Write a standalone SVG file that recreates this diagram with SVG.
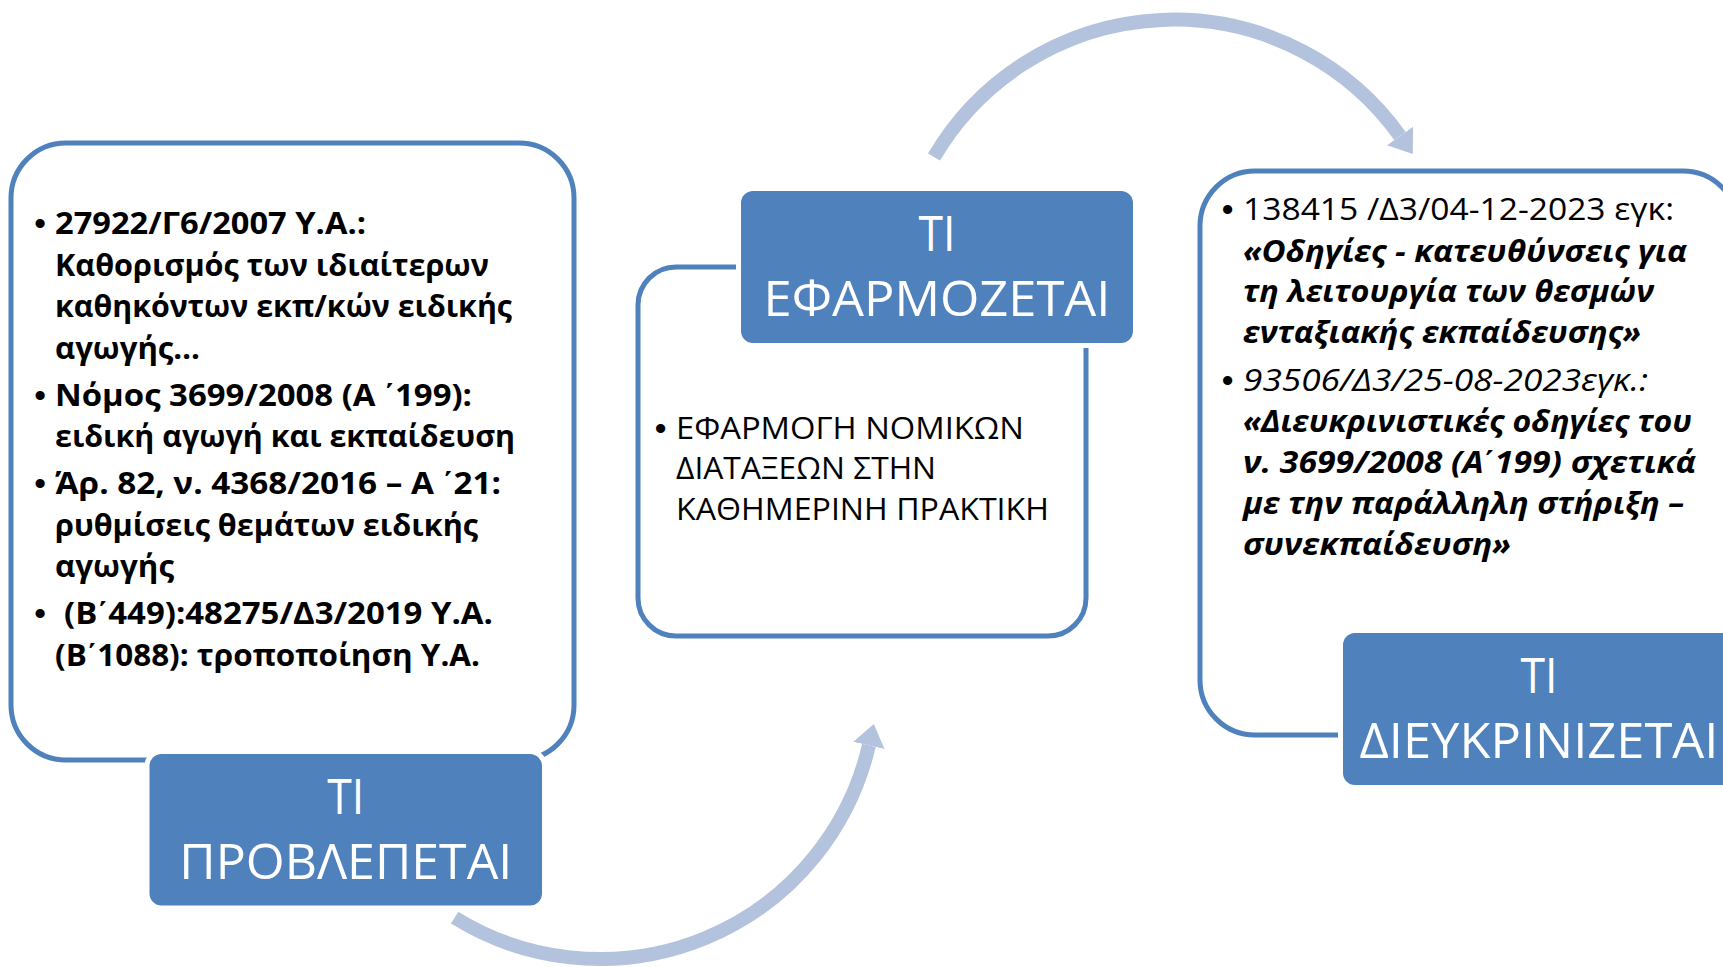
<svg xmlns="http://www.w3.org/2000/svg" width="1723" height="967" viewBox="0 0 1723 967">
<defs>
<style>
.frame{fill:#fff;stroke:#4F81BD;stroke-width:5}
.title{fill:#4F81BD;stroke:#fff;stroke-width:10;paint-order:stroke}
.tt{font-family:"Open Sans","Noto Sans","DejaVu Sans",sans-serif;font-size:50px;fill:#fff;text-anchor:middle}
.b{font-family:"Open Sans","Noto Sans","DejaVu Sans",sans-serif;font-size:31px;fill:#000}
.bl{font-family:"Liberation Sans","DejaVu Sans",sans-serif;font-size:32px;font-weight:bold;fill:#000;text-anchor:middle}
.tn{font-family:"Liberation Sans","DejaVu Sans",sans-serif}
.bold{font-weight:bold}
.it{font-style:italic}
.arc{fill:none;stroke:#B3C3DD;stroke-width:14;marker-end:url(#ah)}
</style>
<marker id="ah" viewBox="0 0 24 36" markerWidth="24" markerHeight="36" refX="0" refY="18" orient="auto" markerUnits="userSpaceOnUse"><path d="M0,2 L22,18 L0,34 z" fill="#B3C3DD"/></marker>
</defs>
<rect width="1723" height="967" fill="#fff"/>

<g id="connectors">
<path class="arc" d="M454.6,917.6 A276,276 0 0 0 868.9,745.4"/>
<path class="arc" d="M934,157 A278,278 0 0 1 1400,136"/>
</g>

<g id="node-provlepetai">
<rect class="frame" x="11" y="143" width="563" height="617" rx="55"/>
<rect class="title" x="149.5" y="754" width="392.5" height="151.5" rx="12"/>
<text class="tt" x="345.75" y="814" textLength="37" lengthAdjust="spacingAndGlyphs">ΤΙ</text>
<text class="tt" x="345.75" y="879" textLength="333" lengthAdjust="spacingAndGlyphs">ΠΡΟΒΛΕΠΕΤΑΙ</text>
<g class="bold">
<text class="bl" x="40" y="234">•</text>
<text class="b" x="55" y="234" textLength="311" lengthAdjust="spacingAndGlyphs">27922/Γ6/2007 Υ.Α.:</text>
<text class="b" x="55" y="275.5" textLength="434" lengthAdjust="spacingAndGlyphs">Καθορισμός των ιδιαίτερων</text>
<text class="b" x="55" y="317" textLength="457" lengthAdjust="spacingAndGlyphs">καθηκόντων εκπ/κών ειδικής</text>
<text class="b" x="55" y="358.5" textLength="145" lengthAdjust="spacingAndGlyphs">αγωγής…</text>
<text class="bl" x="40" y="405.5">•</text>
<text class="b" x="55" y="405.5" textLength="417" lengthAdjust="spacingAndGlyphs">Νόμος 3699/2008 (Α <tspan class="tn">΄</tspan>199):</text>
<text class="b" x="55" y="447" textLength="460" lengthAdjust="spacingAndGlyphs">ειδική αγωγή και εκπαίδευση</text>
<text class="bl" x="40" y="494">•</text>
<text class="b" x="55" y="494" textLength="446" lengthAdjust="spacingAndGlyphs">Άρ. 82, ν. 4368/2016 – Α <tspan class="tn">΄</tspan>21:</text>
<text class="b" x="55" y="535.5" textLength="423" lengthAdjust="spacingAndGlyphs">ρυθμίσεις θεμάτων ειδικής</text>
<text class="b" x="55" y="577" textLength="119" lengthAdjust="spacingAndGlyphs">αγωγής</text>
<text class="bl" x="40" y="624">•</text>
<text class="b" x="64" y="624" textLength="429" lengthAdjust="spacingAndGlyphs">(Β<tspan class="tn">΄</tspan>449):48275/Δ3/2019 Υ.Α.</text>
<text class="b" x="55" y="665.5" textLength="425" lengthAdjust="spacingAndGlyphs">(Β<tspan class="tn">΄</tspan>1088): τροποποίηση Υ.Α.</text>
</g>
</g>

<g id="node-efarmozetai">
<rect class="frame" x="638" y="267" width="448" height="369" rx="38"/>
<rect class="title" x="741" y="191" width="392" height="152" rx="12"/>
<text class="tt" x="937" y="251" textLength="37" lengthAdjust="spacingAndGlyphs">ΤΙ</text>
<text class="tt" x="937" y="316" textLength="347" lengthAdjust="spacingAndGlyphs">ΕΦΑΡΜΟΖΕΤΑΙ</text>
<text class="bl" x="660.5" y="438.5">•</text>
<text class="b" x="676" y="438.5" textLength="348" lengthAdjust="spacingAndGlyphs">ΕΦΑΡΜΟΓΗ ΝΟΜΙΚΩΝ</text>
<text class="b" x="676" y="479" textLength="260" lengthAdjust="spacingAndGlyphs">ΔΙΑΤΑΞΕΩΝ ΣΤΗΝ</text>
<text class="b" x="676" y="520" textLength="373" lengthAdjust="spacingAndGlyphs">ΚΑΘΗΜΕΡΙΝΗ ΠΡΑΚΤΙΚΗ</text>
</g>

<g id="node-dieykrinizetai">
<rect class="frame" x="1200" y="171" width="538" height="564" rx="55"/>
<rect class="title" x="1343" y="633" width="392" height="152" rx="12"/>
<text class="tt" x="1539" y="693" textLength="37" lengthAdjust="spacingAndGlyphs">ΤΙ</text>
<text class="tt" x="1539" y="758" textLength="359" lengthAdjust="spacingAndGlyphs">ΔΙΕΥΚΡΙΝΙΖΕΤΑΙ</text>
<text class="bl" x="1227.5" y="220">•</text>
<text class="b" x="1243" y="220" textLength="431" lengthAdjust="spacingAndGlyphs">138415 /Δ3/04-12-2023 εγκ:</text>
<g class="bold it">
<text class="b" x="1243" y="261.5" textLength="444" lengthAdjust="spacingAndGlyphs">«Οδηγίες - κατευθύνσεις για</text>
<text class="b" x="1243" y="302" textLength="411" lengthAdjust="spacingAndGlyphs">τη λειτουργία των θεσμών</text>
<text class="b" x="1243" y="343" textLength="398" lengthAdjust="spacingAndGlyphs">ενταξιακής εκπαίδευσης»</text>
</g>
<text class="bl" x="1227.5" y="391">•</text>
<text class="b it" x="1243" y="391" textLength="405" lengthAdjust="spacingAndGlyphs">93506/Δ3/25-08-2023εγκ.:</text>
<g class="bold it">
<text class="b" x="1243" y="432" textLength="449" lengthAdjust="spacingAndGlyphs">«Διευκρινιστικές οδηγίες του</text>
<text class="b" x="1243" y="472.5" textLength="453" lengthAdjust="spacingAndGlyphs">ν. 3699/2008 (Α<tspan class="tn">΄</tspan>199) σχετικά</text>
<text class="b" x="1243" y="514" textLength="441" lengthAdjust="spacingAndGlyphs">με την παράλληλη στήριξη –</text>
<text class="b" x="1243" y="555" textLength="268" lengthAdjust="spacingAndGlyphs">συνεκπαίδευση»</text>
</g>
</g>
</svg>
